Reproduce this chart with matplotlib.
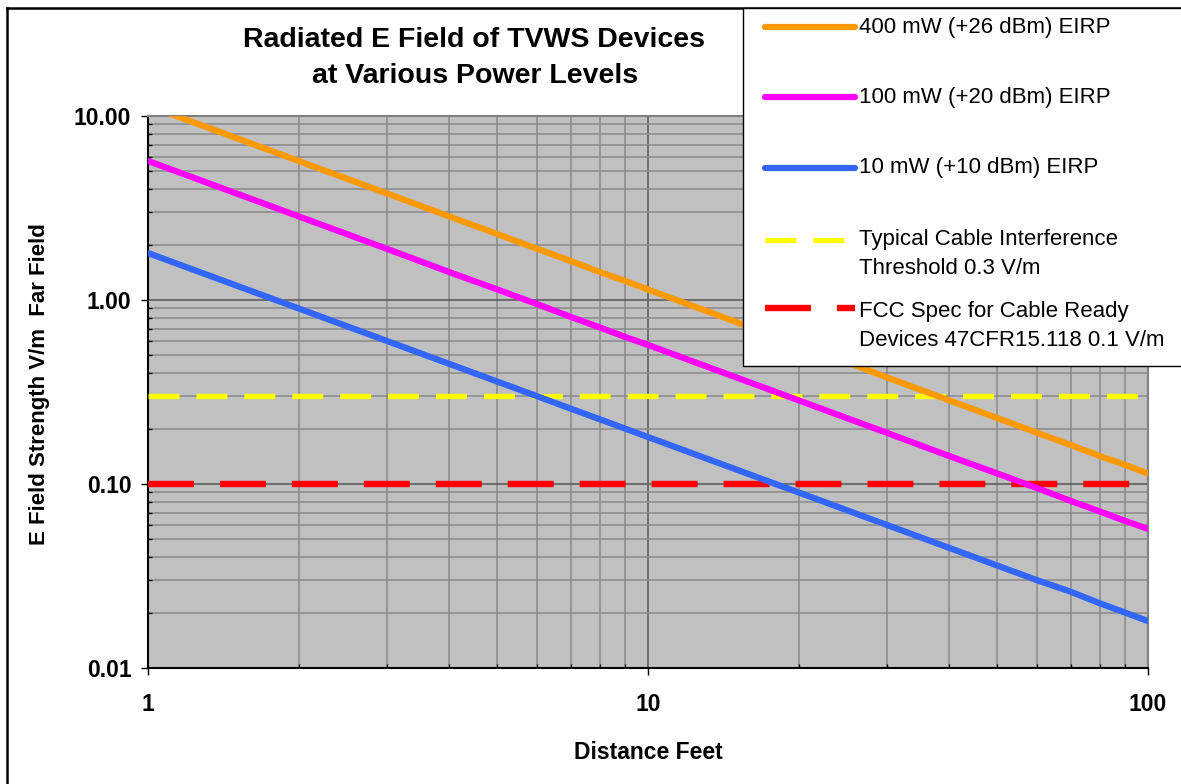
import matplotlib
matplotlib.use("Agg")
import matplotlib.pyplot as plt
from matplotlib.lines import Line2D
from matplotlib.patches import Rectangle
from matplotlib.ticker import LogLocator, NullFormatter, FixedLocator, FixedFormatter

plt.rcParams['font.family'] = ['Liberation Sans', 'DejaVu Sans']
plt.rcParams['lines.scale_dashes'] = False

# data
distance_ft = [1, 1.5, 2, 3, 4, 5, 6, 7, 8, 9, 10, 12, 15, 20, 25, 30, 40, 50, 60, 70, 80, 90, 100]
e_400mw = [11.4, 7.6, 5.7, 3.8, 2.85, 2.28, 1.9, 1.63, 1.42, 1.27, 1.14, 0.95, 0.76, 0.57, 0.46, 0.38,
           0.285, 0.228, 0.19, 0.163, 0.142, 0.127, 0.114]
e_100mw = [5.7, 3.8, 2.85, 1.9, 1.42, 1.14, 0.95, 0.81, 0.71, 0.63, 0.57, 0.475, 0.38, 0.285, 0.228, 0.19,
           0.142, 0.114, 0.095, 0.081, 0.071, 0.063, 0.057]
e_10mw = [1.8, 1.2, 0.9, 0.6, 0.45, 0.36, 0.3, 0.257, 0.225, 0.2, 0.18, 0.15, 0.12, 0.09, 0.072, 0.06,
          0.045, 0.036, 0.03, 0.026, 0.0225, 0.02, 0.018]
threshold_x = [1, 100]
cable_threshold = [0.3, 0.3]
fcc_spec = [0.1, 0.1]

labels = ["400 mW (+26 dBm) EIRP", "100 mW (+20 dBm) EIRP", "10 mW (+10 dBm) EIRP",
          "Typical Cable Interference\nThreshold 0.3 V/m",
          "FCC Spec for Cable Ready\nDevices 47CFR15.118 0.1 V/m"]
y_ticks = [0.01, 0.1, 1, 10]
y_ticklabels = ["0.01", "0.10", "1.00", "10.00"]
x_ticks = [1, 10, 100]
x_ticklabels = ["1", "10", "100"]

W, H = 1181, 784
fig = plt.figure(figsize=(W / 100, H / 100), dpi=100)

def fx(px):
    return px / W

def fy(py):
    return 1 - py / H

ax = fig.add_axes([fx(148), fy(668), fx(1148) - fx(148), fy(116) - fy(668)])
ax.set_facecolor('#c0c0c0')
ax.set_xscale('log')
ax.set_yscale('log')
ax.set_xlim(1, 100)
ax.set_ylim(0.01, 10)

colors = ['#ff9900', '#ff00ff', '#3366ff', '#ffff00', '#ff0000']
yellow_dash = (22.3, 12.2)
red_dash = (33.1, 18.7)

ax.plot(distance_ft, e_400mw, color=colors[0], lw=4.5, solid_capstyle='round', zorder=4)
ax.plot(distance_ft, e_100mw, color=colors[1], lw=4.5, solid_capstyle='round', zorder=4)
ax.plot(distance_ft, e_10mw, color=colors[2], lw=4.5, solid_capstyle='round', zorder=4)
ax.plot(threshold_x, cable_threshold, color=colors[3], lw=3.8, dashes=yellow_dash, zorder=3)
ax.plot(threshold_x, fcc_spec, color=colors[4], lw=4.6, dashes=red_dash, zorder=3)

# grid
ax.xaxis.set_minor_locator(LogLocator(base=10, subs=range(2, 10)))
ax.yaxis.set_minor_locator(LogLocator(base=10, subs=range(2, 10)))
ax.xaxis.set_minor_formatter(NullFormatter())
ax.yaxis.set_minor_formatter(NullFormatter())
ax.grid(True, which='major', color='#666666', lw=1.3)
ax.grid(True, which='minor', color='#8a8a8a', lw=1.1)
ax.set_axisbelow(True)

ax.yaxis.set_major_locator(FixedLocator(y_ticks))
ax.yaxis.set_major_formatter(FixedFormatter(y_ticklabels))
ax.xaxis.set_major_locator(FixedLocator(x_ticks))
ax.xaxis.set_major_formatter(FixedFormatter(x_ticklabels))
ax.tick_params(which='major', direction='out', length=5, width=1, color='black',
               labelsize=16.5)
ax.tick_params(axis='y', which='major', pad=7)
ax.tick_params(axis='x', which='major', pad=13)
ax.tick_params(which='minor', direction='in', length=3, width=1, color='black')
for lab in ax.get_xticklabels() + ax.get_yticklabels():
    lab.set_fontweight('bold')

for side in ['left', 'bottom']:
    ax.spines[side].set_color('black')
    ax.spines[side].set_linewidth(1.5)
for side in ['top', 'right']:
    ax.spines[side].set_color('#808080')
    ax.spines[side].set_linewidth(1.5)

ax.set_xlabel("Distance Feet", fontsize=16.5, fontweight='bold', labelpad=18)
fig.text(fx(40), fy(384), "E Field Strength V/m  Far Field", rotation=90,
         ha='center', va='center', fontsize=16, fontweight='bold')

fig.text(fx(474), fy(40), "Radiated E Field of TVWS Devices", ha='center', va='center',
         fontsize=20.5, fontweight='bold')
fig.text(fx(475), fy(76), "at Various Power Levels", ha='center', va='center',
         fontsize=20.5, fontweight='bold')

# outer chart border (right and bottom edges fall outside the image)
fig.add_artist(Line2D([fx(7), fx(7)], [fy(8), fy(790)], color='black', lw=1.8,
                      transform=fig.transFigure))
fig.add_artist(Line2D([fx(7), fx(1190)], [fy(8), fy(8)], color='black', lw=1.8,
                      transform=fig.transFigure))

# legend box
fig.add_artist(Rectangle((fx(743), fy(366)), fx(1200) - fx(743), fy(8) - fy(366),
                         facecolor='white', edgecolor='black', lw=1.0,
                         transform=fig.transFigure, zorder=5))
handle_y = [27, 97, 168, 240, 308]
text_y = [27, 97, 168, 254, 326]
styles = [dict(lw=4.5, solid_capstyle='round'), dict(lw=4.5, solid_capstyle='round'),
          dict(lw=4.5, solid_capstyle='round'), dict(lw=3.8, dashes=yellow_dash),
          dict(lw=4.6, dashes=red_dash)]
for i, lab in enumerate(labels):
    fig.add_artist(Line2D([fx(765), fx(855)], [fy(handle_y[i]), fy(handle_y[i])],
                          color=colors[i], transform=fig.transFigure, zorder=6, **styles[i]))
    fig.text(fx(859), fy(text_y[i]), lab, ha='left', va='center', fontsize=16,
             linespacing=1.55, zorder=6)

fig.savefig('out.png', dpi=100)
